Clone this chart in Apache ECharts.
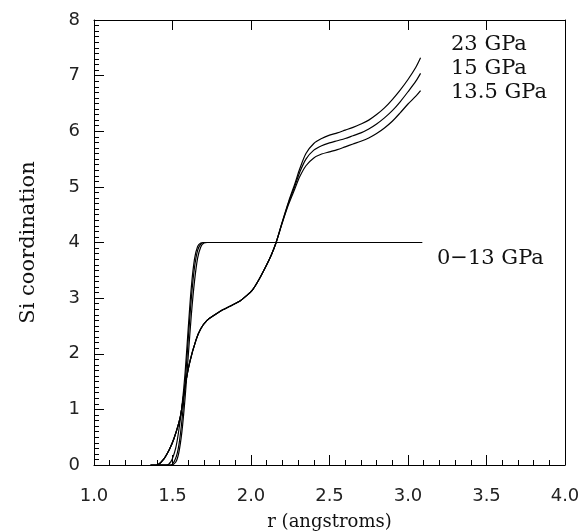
<!DOCTYPE html>
<html>
<head>
<meta charset="utf-8">
<script src="https://cdn.jsdelivr.net/npm/echarts@6/dist/echarts.min.js"></script>
<style>
  html, body { margin: 0; padding: 0; background: #fff; }
  #chart { width: 584px; height: 531px; }
</style>
</head>
<body>
<div id="chart"></div>
<script>
// ---- data ----
var xTicks = ['1.0', '1.5', '2.0', '2.5', '3.0', '3.5', '4.0'];
var yTicks = ['0', '1', '2', '3', '4', '5', '6', '7', '8'];

// high-pressure curves (13.5, 15, 23 GPa)
var rHigh = [1.36, 1.40, 1.44, 1.48, 1.51, 1.55, 1.58, 1.61, 1.65, 1.68, 1.72, 1.77, 1.82, 1.87, 1.93, 1.97, 2.01, 2.05, 2.10, 2.13, 2.16, 2.20, 2.24, 2.28, 2.31, 2.35, 2.40, 2.45, 2.50, 2.55, 2.60, 2.65, 2.70, 2.75, 2.80, 2.85, 2.90, 2.95, 3.00, 3.05, 3.08];
var p23   = [0, 0, 0.09, 0.28, 0.48, 0.87, 1.42, 1.85, 2.25, 2.45, 2.6, 2.7, 2.79, 2.86, 2.95, 3.04, 3.15, 3.33, 3.6, 3.78, 4.0, 4.38, 4.74, 5.06, 5.32, 5.6, 5.78, 5.87, 5.93, 5.97, 6.02, 6.07, 6.13, 6.2, 6.3, 6.42, 6.57, 6.74, 6.93, 7.15, 7.32];
var p15   = [0, 0, 0.09, 0.28, 0.48, 0.87, 1.42, 1.85, 2.25, 2.45, 2.6, 2.7, 2.79, 2.86, 2.95, 3.04, 3.15, 3.33, 3.6, 3.78, 4.0, 4.37, 4.72, 5.02, 5.26, 5.5, 5.66, 5.74, 5.79, 5.83, 5.87, 5.92, 5.97, 6.04, 6.13, 6.24, 6.37, 6.53, 6.71, 6.9, 7.04];
var p135  = [0, 0, 0.09, 0.28, 0.48, 0.87, 1.42, 1.85, 2.25, 2.45, 2.6, 2.7, 2.79, 2.86, 2.95, 3.04, 3.15, 3.33, 3.6, 3.78, 4.0, 4.36, 4.69, 4.97, 5.18, 5.38, 5.52, 5.59, 5.63, 5.67, 5.72, 5.77, 5.82, 5.88, 5.96, 6.06, 6.18, 6.33, 6.49, 6.63, 6.73];

// low-pressure curves (0-13 GPa)
var rLow  = [1.40, 1.46, 1.49, 1.52, 1.54, 1.56, 1.58, 1.60, 1.62, 1.64, 1.66, 1.68, 1.70, 1.72, 3.09];
var pLowA = [0, 0, 0.06, 0.3, 0.62, 1.05, 1.65, 2.45, 3.2, 3.7, 3.93, 3.99, 4.0, 4.0, 4.0];
var pLowB = [0, 0, 0.0, 0.12, 0.35, 0.8, 1.45, 2.25, 3.0, 3.55, 3.86, 3.97, 4.0, 4.0, 4.0];
var pLowC = [0, 0, 0.0, 0.05, 0.22, 0.6, 1.2, 1.95, 2.7, 3.3, 3.72, 3.92, 3.99, 4.0, 4.0];

var labelsHigh = ['23 GPa', '15 GPa', '13.5 GPa'];
var labelLow = '0\u221213 GPa';

function pairs(xs, ys) { return xs.map(function (x, i) { return [x, ys[i]]; }); }

var chart = echarts.init(document.getElementById('chart'), null, { renderer: 'canvas' });

var lineStyle = { color: '#000', width: 1.2 };
function mkSeries(name, xs, ys) {
  return {
    name: name, type: 'line', xAxisIndex: 0, yAxisIndex: 0,
    data: pairs(xs, ys), showSymbol: false, symbol: 'none',
    smooth: 0.3,
    lineStyle: lineStyle, animation: false, silent: true
  };
}

var tickFont = { fontFamily: 'DejaVu Sans', fontSize: 18, color: '#222' };
var serif = 'DejaVu Serif';
var noteFont = '21px "DejaVu Serif"';

chart.setOption({
  backgroundColor: '#fff',
  animation: false,
  grid: { left: 94, right: 19, top: 20, bottom: 66, containLabel: false, outerBoundsMode: 'none' },
  xAxis: [{
    type: 'value', min: 1, max: 4, interval: 0.5, position: 'bottom',
    axisLine: { show: true, onZero: false, lineStyle: { color: '#000', width: 1 } },
    axisTick: { show: true, inside: true, length: 10, lineStyle: { color: '#000' } },
    minorTick: { show: true, splitNumber: 5, length: 5, lineStyle: { color: '#000' } },
    splitLine: { show: false },
    axisLabel: Object.assign({ margin: 22, formatter: function (v) { return xTicks[Math.round((v - 1) / 0.5)]; } }, tickFont),
    name: 'r (angstroms)', nameLocation: 'middle', nameGap: 48,
    nameTextStyle: { fontFamily: serif, fontSize: 18, color: '#111' }
  }, {
    type: 'value', min: 1, max: 4, interval: 0.5, position: 'top',
    axisLine: { show: true, onZero: false, lineStyle: { color: '#000', width: 1 } },
    axisTick: { show: true, inside: true, length: 10, lineStyle: { color: '#000' } },
    axisLabel: { show: false }, splitLine: { show: false }
  }],
  yAxis: [{
    type: 'value', min: 0, max: 8, interval: 1, position: 'left',
    axisLine: { show: true, onZero: false, lineStyle: { color: '#000', width: 1 } },
    axisTick: { show: true, inside: true, length: 10, lineStyle: { color: '#000' } },
    minorTick: { show: true, splitNumber: 10, length: 5, lineStyle: { color: '#000' } },
    splitLine: { show: false },
    axisLabel: Object.assign({ margin: 14, formatter: function (v) { return yTicks[Math.round(v)]; } }, tickFont),
    name: 'Si coordination', nameLocation: 'middle', nameRotate: 90, nameGap: 55,
    nameTextStyle: { fontFamily: serif, fontSize: 21, color: '#111' }
  }, {
    type: 'value', min: 0, max: 8, interval: 1, position: 'right',
    axisLine: { show: true, onZero: false, lineStyle: { color: '#000', width: 1 } },
    axisTick: { show: false }, axisLabel: { show: false }, splitLine: { show: false }
  }],
  graphic: [
    { type: 'text', left: 451, top: 34, style: { text: labelsHigh[0], font: noteFont, fill: '#111' } },
    { type: 'text', left: 451, top: 58, style: { text: labelsHigh[1], font: noteFont, fill: '#111' } },
    { type: 'text', left: 451, top: 82, style: { text: labelsHigh[2], font: noteFont, fill: '#111' } },
    { type: 'text', left: 437, top: 248, style: { text: labelLow, font: noteFont, fill: '#111' } }
  ],
  series: [
    mkSeries('23 GPa', rHigh, p23),
    mkSeries('15 GPa', rHigh, p15),
    mkSeries('13.5 GPa', rHigh, p135),
    mkSeries('low A', rLow, pLowA),
    mkSeries('low B', rLow, pLowB),
    mkSeries('low C', rLow, pLowC)
  ]
});
</script>
</body>
</html>
